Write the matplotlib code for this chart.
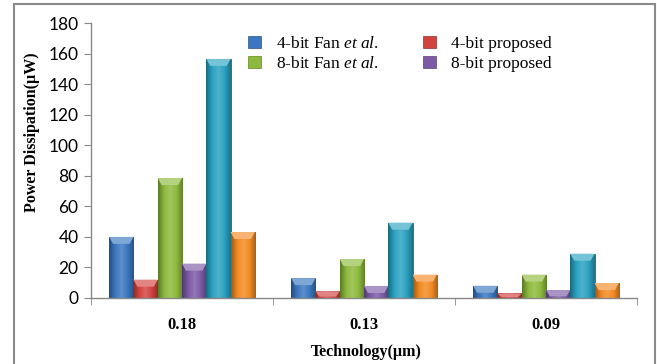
import numpy as np
import matplotlib
matplotlib.use("Agg")
import matplotlib.pyplot as plt
from matplotlib.patches import Rectangle, Polygon, Patch
from matplotlib.colors import LinearSegmentedColormap, to_rgb

# ---- data ----
categories = ["0.18", "0.13", "0.09"]
series_names = ["4-bit Fan et al.", "4-bit proposed", "8-bit Fan et al.",
                "8-bit proposed", "16-bit Fan et al.", "16-bit proposed"]
fan4 = [40, 13, 8]
prop4 = [12, 4.4, 3]
fan8 = [78.5, 25.5, 15.3]
prop8 = [22.5, 7.9, 5.2]
fan16 = [156.5, 49.3, 29]
prop16 = [43.2, 15.3, 9.8]
series_values = [fan4, prop4, fan8, prop8, fan16, prop16]
colors = ["#3A77C0", "#D2423F", "#8CBA3C", "#7C5AA6", "#2AA2C2", "#F28A22"]
legend_labels = ["4-bit Fan $\\mathit{et\\ al.}$", "4-bit proposed",
                 "8-bit Fan $\\mathit{et\\ al.}$", "8-bit proposed"]
yticks = [0, 20, 40, 60, 80, 100, 120, 140, 160, 180]

plt.rcParams["mathtext.fontset"] = "custom"
plt.rcParams["mathtext.rm"] = "Liberation Serif"
plt.rcParams["mathtext.it"] = "Liberation Serif:italic"

W, H = 657, 364
fig = plt.figure(figsize=(W / 100, H / 100), dpi=100)
ax = fig.add_axes([91 / W, 1 - 298 / H, (637 - 91) / W, (298 - 23) / H])

def mix(c, t, amt):
    c = np.array(to_rgb(c)); t = np.array(to_rgb(t))
    return tuple(c + (t - c) * amt)

n = len(series_values)
width = 0.8 / n
x = np.arange(len(categories))
px_per_unit = (298 - 23) / 180.0
for i, (vals, col) in enumerate(zip(series_values, colors)):
    pos = x - 0.4 + width * (i + 0.5)
    bars = ax.bar(pos, vals, width, color=col, edgecolor=mix(col, "black", 0.35),
                  linewidth=0.6, zorder=2)
    cmap = LinearSegmentedColormap.from_list(
        "g%d" % i, [mix(col, "black", 0.35), col, mix(col, "white", 0.18),
                    col, mix(col, "black", 0.3)])
    grad = np.linspace(0, 1, 64).reshape(1, -1)
    for b in bars:
        bx, bw, bh = b.get_x(), b.get_width(), b.get_height()
        im = ax.imshow(grad, extent=[bx, bx + bw, 0, bh], aspect="auto",
                       cmap=cmap, zorder=2.5, interpolation="bilinear")
        im.set_clip_path(b)
        e = min(7 / px_per_unit, bh * 0.8)
        d = bw * 0.16
        top = Polygon([(bx, bh), (bx + bw, bh), (bx + bw - d, bh - e), (bx + d, bh - e)],
                      closed=True, facecolor=mix(col, "white", 0.35),
                      edgecolor="none", zorder=3)
        ax.add_patch(top)

ax.set_xlim(-0.5, len(categories) - 0.5)
ax.set_ylim(0, 180)
ax.set_yticks(yticks)
ax.set_yticklabels([str(v) for v in yticks], family="Lato", fontsize=12.5)
ax.set_xticks(x)
ax.set_xticklabels(categories, family="Liberation Serif", fontweight="bold",
                   fontsize=12)
ax.set_xticks(np.arange(-0.5, len(categories)), minor=True)
ax.tick_params(axis="x", which="major", length=0, pad=14)
ax.tick_params(axis="x", which="minor", length=5, color="#888888", direction="out")
ax.tick_params(axis="y", length=5, color="#888888", pad=4)
for s in ["top", "right"]:
    ax.spines[s].set_visible(False)
for s in ["left", "bottom"]:
    ax.spines[s].set_color("#888888")
    ax.spines[s].set_linewidth(1)

handles = [Patch(facecolor=c, edgecolor=mix(c, "black", 0.3), linewidth=0.5)
           for c in colors[:4]]
order = [0, 2, 1, 3]
leg = ax.legend([handles[k] for k in order], [legend_labels[k] for k in order],
                ncol=2, frameon=False, loc="upper left",
                bbox_to_anchor=(232 / W, 1 - 20 / H), bbox_transform=fig.transFigure,
                prop={"family": "Liberation Serif", "size": 12.5},
                handlelength=0.75, handleheight=0.75, handletextpad=0.9,
                columnspacing=2.5, labelspacing=0.2)

fig.text(32 / W, 1 - 132 / H, "Power Dissipation(\u00b5W)", rotation=90,
         ha="center", va="center", family="Liberation Serif", fontweight="bold",
         fontsize=11.5)
fig.text(366 / W, 1 - 352 / H, "Technology(\u00b5m)", ha="center", va="center",
         family="Liberation Serif", fontweight="bold", fontsize=11.5)

frame = Rectangle((14 / W, -0.2), (655 - 14) / W, 1 - 4 / H + 0.2,
                  transform=fig.transFigure, fill=False, edgecolor="#8a8a8a",
                  linewidth=1.5, zorder=10)
fig.patches.append(frame)

fig.savefig("out.png", dpi=100)
